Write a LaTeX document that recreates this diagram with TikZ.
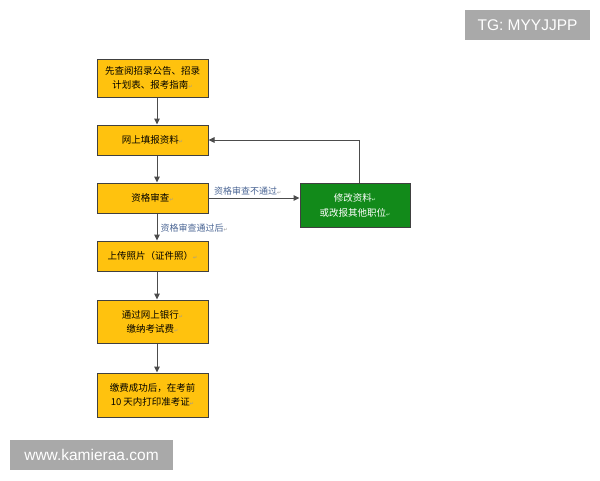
\documentclass[tikz,border=0pt]{standalone}
\usepackage{fontspec}
\setmainfont{Liberation Sans}
\newfontfamily\cjk{Noto Sans CJK SC}
\newfontfamily\sym{DejaVu Sans}
\usetikzlibrary{arrows.meta}
\definecolor{boxyellow}{HTML}{FFC20E}
\definecolor{boxgreen}{HTML}{128A1A}
\definecolor{lblblue}{HTML}{4A6594}
\definecolor{wmgray}{HTML}{A9A9A9}
\newcommand{\rt}{{\sym\fontsize{5}{5}\selectfont\textcolor{gray!80}{↵}}}
\newcommand{\rtw}{{\sym\fontsize{5}{5}\selectfont\textcolor{white!80!green}{↵}}}
\begin{document}
\begin{tikzpicture}[x=1pt,y=-1pt,
  ybox/.style={draw=black!75,line width=1pt,fill=boxyellow,minimum width=111pt,inner sep=0pt,align=center,font=\cjk\fontsize{9.5}{14}\selectfont},
  gbox/.style={draw=black!75,line width=1pt,fill=boxgreen,minimum width=110pt,minimum height=44pt,inner sep=0pt,align=center,text=white,font=\cjk\fontsize{9.5}{15}\selectfont},
  conn/.style={draw=black!70,line width=1pt,-{Triangle[length=6pt,width=5.5pt]}},
  lbl/.style={text=lblblue,font=\cjk\fontsize{9}{11}\selectfont,inner sep=1pt},
  wm/.style={fill=wmgray,text=white,inner sep=0pt,font=\fontsize{15.5}{17}\selectfont}]
\useasboundingbox (0,0) rectangle (600,480);
\fill[white] (0,0) rectangle (600,480);
\node[ybox,minimum height=38pt] (a) at (152.5,78) {先查阅招录公告、招录\\计划表、报考指南\rt};
\node[ybox,minimum height=30pt] (b) at (152.5,140) {网上填报资料\rt};
\node[ybox,minimum height=30pt] (c) at (152.5,198) {资格审查\rt};
\node[ybox,minimum height=30pt] (d) at (152.5,256) {上传照片（证件照）\rt};
\node[ybox,minimum height=43pt] (e) at (152.5,321.5) {通过网上银行\rt\\缴纳考试费\rt};
\node[ybox,minimum height=44pt] (f) at (152.5,395) {缴费成功后，在考前\\10 天内打印准考证\rt};
\node[gbox] (g) at (355,205) {修改资料\rtw\\或改报其他职位\rtw};
\draw[conn] ([xshift=4.5pt]a.south) -- ([xshift=4.5pt]b.north);
\draw[conn] ([xshift=4.5pt]b.south) -- ([xshift=4.5pt]c.north);
\draw[conn] ([xshift=4.5pt]c.south) -- node[lbl,right,pos=0.55,xshift=2pt]{资格审查通过后\rt} ([xshift=4.5pt]d.north);
\draw[conn] ([xshift=4.5pt]d.south) -- ([xshift=4.5pt]e.north);
\draw[conn] ([xshift=4.5pt]e.south) -- ([xshift=4.5pt]f.north);
\draw[conn] (c.east) -- node[lbl,above,pos=0.43,yshift=1pt]{资格审查不通过\rt} (c.east -| g.west);
\draw[conn] ([xshift=4pt]g.north) |- (b.east);
\node[wm,minimum width=125pt,minimum height=30pt] (tg) at (527.5,25) {TG: MYYJJPP};
\node[wm,minimum width=163pt,minimum height=30pt] (www) at (91.5,455) {www.kamieraa.com};
\end{tikzpicture}
\end{document}
